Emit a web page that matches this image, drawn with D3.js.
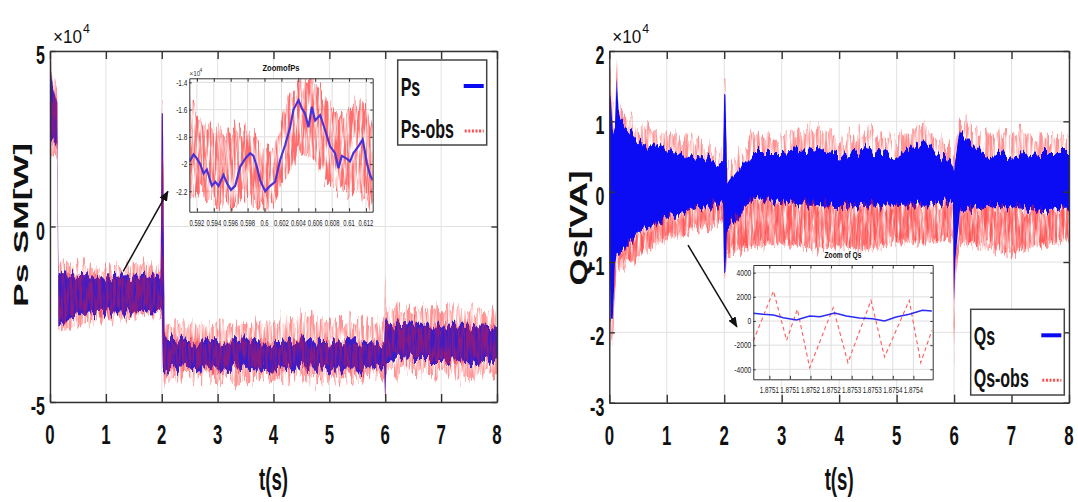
<!DOCTYPE html>
<html><head><meta charset="utf-8">
<script src="https://cdn.jsdelivr.net/npm/d3@7"></script>
<style>html,body{margin:0;padding:0;background:#fff;} svg{display:block;}</style>
</head><body><svg id="c" width="1078" height="502"></svg>
<script>
// ================= DATA (values in units of 10^4 for main charts) =================
const timeTicks = [0,1,2,3,4,5,6,7,8];
const psTicks = [-5,0,5];
const qsTicks = [-3,-2,-1,0,1,2];

// Ps envelope
const psT      = [0,0.02,0.05,0.1,0.13,0.15,0.2,0.5,1.0,1.5,1.98,2.0,2.02,2.05,2.1,2.5,3,3.5,4,4.5,5,5.5,5.98,6.0,6.02,6.1,6.5,7,7.5,8];
const psBlueHi = [4.5,4.5,4.0,3.7,3.5,-1.4,-1.35,-1.4,-1.45,-1.4,-1.4,3.2,3.2,-3.0,-3.2,-3.3,-3.3,-3.25,-3.3,-3.25,-3.3,-3.3,-3.3,-2.6,-2.7,-2.75,-2.8,-2.8,-2.8,-2.85];
const psBlueLo = [0,2.4,2.4,2.3,2.2,-2.7,-2.75,-2.5,-2.45,-2.45,-2.4,-2.4,-4.05,-4.1,-4.1,-4.05,-4.1,-4.05,-4.1,-4.0,-4.1,-4.1,-4.0,-5.0,-3.8,-3.75,-3.8,-3.8,-3.9,-3.75];
const psRedHi  = [4.9,4.9,4.3,4.1,3.9,-1.1,-1.05,-1.1,-1.15,-1.1,-1.15,3.55,3.55,-2.7,-2.8,-2.75,-2.8,-2.75,-2.7,-2.6,-2.7,-2.75,-2.7,-1.3,-2.2,-2.35,-2.3,-2.3,-2.3,-2.4];
const psRedLo  = [0,2.0,2.0,2.0,2.0,-3.0,-3.0,-2.8,-2.65,-2.6,-2.55,-2.55,-4.3,-4.4,-4.4,-4.3,-4.4,-4.45,-4.3,-4.35,-4.4,-4.3,-4.2,-4.9,-4.1,-4.1,-4.2,-4.25,-4.35,-4.2];

// Qs envelope
const qsT      = [0,0.02,0.06,0.1,0.13,0.16,0.2,0.5,1,1.5,1.98,2.0,2.02,2.05,2.1,2.5,3,3.5,4,4.5,5,5.5,5.9,5.98,6.0,6.02,6.1,6.5,7,7.5,8];
const qsBlueHi = [1.35,1.35,0.9,1.0,1.6,1.1,1.0,0.75,0.6,0.5,0.4,1.35,1.35,0.2,0.15,0.55,0.55,0.6,0.5,0.6,0.5,0.7,0.45,0.4,0.3,0.5,0.88,0.55,0.5,0.55,0.55];
const qsBlueLo = [-0.5,-1.85,-1.85,-1.0,-0.9,-0.9,-0.85,-0.6,-0.38,-0.25,-0.18,-1.2,-1.2,-0.5,-0.5,-0.1,-0.15,-0.2,-0.22,-0.2,-0.2,-0.2,-0.15,-0.15,-1.6,-1.0,-0.3,-0.22,-0.22,-0.28,-0.22];
const qsRedHi  = [1.7,1.7,1.2,1.2,1.92,1.2,1.1,0.93,0.78,0.7,0.55,1.6,1.6,0.4,0.36,0.78,0.83,0.95,0.73,0.92,0.78,0.92,0.6,0.55,0.5,0.8,1.0,0.78,0.88,0.78,0.73];
const qsRedLo  = [-0.8,-2.13,-2.13,-1.4,-1.1,-1.1,-1.05,-0.92,-0.65,-0.55,-0.42,-1.3,-1.3,-0.87,-0.87,-0.78,-0.73,-0.8,-0.78,-0.83,-0.7,-0.73,-0.65,-0.65,-2.5,-1.2,-0.7,-0.78,-0.87,-0.75,-0.7];

// Zoom of Ps
const zoomPsXTicks = [0.592,0.594,0.596,0.598,0.6,0.602,0.604,0.606,0.608,0.61,0.612];
const zoomPsYTicks = [-2.2,-2,-1.8,-1.6,-1.4];
const zoomPsT = [0.59113,0.59161,0.592,0.59239,0.59279,0.59318,0.59377,0.59417,0.59456,0.59515,0.59555,0.59602,0.59653,0.59712,0.59771,0.5983,0.5987,0.59909,0.59949,0.60008,0.60067,0.60126,0.60185,0.60244,0.60303,0.60343,0.60402,0.60441,0.6048,0.6052,0.60559,0.60599,0.60658,0.60717,0.60776,0.60835,0.60875,0.60914,0.60973,0.61012,0.61052,0.61111,0.61162,0.6121,0.61249,0.6128];
const zoomPsBlue = [-1.98,-1.93,-1.96,-2.0,-2.07,-2.04,-2.16,-2.13,-2.16,-2.08,-2.14,-2.19,-2.16,-2.02,-1.96,-1.92,-1.94,-2.02,-2.12,-2.2,-2.16,-2.13,-1.97,-1.86,-1.73,-1.6,-1.53,-1.59,-1.63,-1.73,-1.58,-1.68,-1.64,-1.75,-1.87,-1.92,-2.03,-1.94,-1.96,-1.98,-1.92,-1.87,-1.82,-1.99,-2.08,-2.12];
const zoomPsRedT  = [0.59121,0.59358,0.59555,0.59752,0.59949,0.60106,0.60264,0.60421,0.60579,0.60737,0.60894,0.61052,0.61209,0.6128];
const zoomPsRedHi = [-1.53,-1.77,-1.77,-1.75,-1.85,-1.9,-1.53,-1.38,-1.38,-1.53,-1.65,-1.55,-1.53,-1.77];
const zoomPsRedLo = [-2.21,-2.26,-2.31,-2.24,-2.34,-2.31,-2.09,-1.9,-1.97,-2.14,-2.21,-2.19,-2.26,-2.34];

// Zoom of Qs (VA)
const zoomQsXTicks = [1.8751,1.87515,1.8752,1.87525,1.8753,1.87535,1.8754,1.87545];
const zoomQsXLabels = ["1.8751","1.8751","1.8752","1.8752","1.8753","1.8753","1.8754","1.8754"];
const zoomQsYTicks = [-4000,-2000,0,2000,4000];
const zoomQsT    = [1.875061,1.875085,1.87511,1.875134,1.875166,1.875198,1.875223,1.875259,1.875287,1.875319,1.875351,1.87538,1.875408,1.87544,1.875472,1.875495];
const zoomQsBlue = [635,552,497,276,83,414,359,662,414,248,193,0,331,552,883,828];
const zoomQsObsT = [1.875061,1.87511,1.875142,1.875168,1.875198,1.875255,1.875291,1.875347,1.87538,1.87544,1.875468,1.875495];
const zoomQsObs  = [-1656,2484,-1601,966,-3864,1104,-3450,1711,-2981,1711,-3450,-773];

// ================= DRAWING =================
const FONT = "'Liberation Sans', Arial, sans-serif";
const svg = d3.select("#c");
const defs = svg.append("defs");

// texture filters (purely visual: ragged edges + speckle)
function makeFilter(id, dispFreq, dispScale, seed, grainFreq, grainGain, grainBias) {
  const f = defs.append("filter").attr("id", id).attr("x", "-5%").attr("y", "-10%").attr("width", "110%").attr("height", "120%")
    .attr("color-interpolation-filters", "sRGB");
  f.append("feTurbulence").attr("type", "fractalNoise").attr("baseFrequency", dispFreq).attr("numOctaves", 2).attr("seed", seed).attr("result", "n1");
  f.append("feColorMatrix").attr("in", "n1").attr("type", "matrix")
    .attr("values", "0 0 0 0 0.5  0 1 0 0 0  0 0 0 0 0  0 0 0 0 1").attr("result", "d1");
  f.append("feDisplacementMap").attr("in", "SourceGraphic").attr("in2", "d1").attr("scale", dispScale)
    .attr("xChannelSelector", "R").attr("yChannelSelector", "G").attr("result", "disp");
  if (grainFreq) {
    f.append("feTurbulence").attr("type", "fractalNoise").attr("baseFrequency", grainFreq).attr("numOctaves", 3).attr("seed", seed + 11).attr("result", "n2");
    f.append("feColorMatrix").attr("in", "n2").attr("type", "matrix")
      .attr("values", `0 0 0 0 0  0 0 0 0 0  0 0 0 0 0  0 0 0 ${grainGain} ${grainBias}`).attr("result", "m");
    f.append("feComposite").attr("in", "disp").attr("in2", "m").attr("operator", "in");
  }
}
makeFilter("redTex", "0.35 0.012", 34, 3, "0.42 0.03", 3.4, -1.1);
makeFilter("redTex2", "0.3 0.012", 26, 9, "0.45 0.04", 3.0, -0.85);
makeFilter("blueTex", "0.3 0.01", 22, 5, null);

defs.append("marker").attr("id","ah").attr("viewBox","0 0 10 10").attr("refX",9).attr("refY",5)
  .attr("markerWidth",7).attr("markerHeight",7).attr("orient","auto")
  .append("path").attr("d","M0,1 L10,5 L0,9 Z").attr("fill","#111");

function label(parent, s, x, y, o) {
  const t = parent.append("text").text(s)
    .attr("transform", `translate(${x},${y})` + (o.rot ? ` rotate(${o.rot})` : "") + (o.sx ? ` scale(${o.sx},1)` : ""))
    .attr("font-family", FONT).attr("font-size", o.size)
    .attr("font-weight", o.bold ? "bold" : "normal")
    .attr("text-anchor", o.anchor || "start").attr("fill", o.fill || "#111");
  if (o.len) t.attr("textLength", o.len).attr("lengthAdjust", "spacingAndGlyphs");
  return t;
}

function frame(g, x, y, xt, yt, tick, col, w) {
  const [l, r] = x.range(), [b, t] = y.range();
  g.append("g").attr("transform", `translate(0,${b})`).call(d3.axisBottom(x).tickValues(xt).tickSizeInner(-tick).tickSizeOuter(0).tickFormat(""));
  g.append("g").attr("transform", `translate(0,${t})`).call(d3.axisTop(x).tickValues(xt).tickSizeInner(-tick).tickSizeOuter(0).tickFormat(""));
  g.append("g").attr("transform", `translate(${l},0)`).call(d3.axisLeft(y).tickValues(yt).tickSizeInner(-tick*0.7).tickSizeOuter(0).tickFormat(""));
  g.append("g").attr("transform", `translate(${r},0)`).call(d3.axisRight(y).tickValues(yt).tickSizeInner(-tick*0.7).tickSizeOuter(0).tickFormat(""));
  g.selectAll(".domain").attr("stroke", col).attr("stroke-width", w);
  g.selectAll(".tick line").attr("stroke", col).attr("stroke-width", w);
}

function grid(g, x, y, xt, yt, col) {
  const [l, r] = x.range(), [b, t] = y.range();
  g.selectAll(null).data(xt).join("line").attr("x1", d => x(d)).attr("x2", d => x(d)).attr("y1", b).attr("y2", t)
    .attr("stroke", col).attr("stroke-width", 1);
  g.selectAll(null).data(yt).join("line").attr("y1", d => y(d)).attr("y2", d => y(d)).attr("x1", l).attr("x2", r)
    .attr("stroke", col).attr("stroke-width", 1);
}

function band(g, T, hi, lo, x, y) {
  const idx = d3.range(T.length);
  return g.append("path")
    .attr("d", d3.area().x(i => x(T[i])).y0(i => y(lo[i])).y1(i => y(hi[i]))(idx));
}

function mainChart(id, cfg) {
  const g = svg.append("g");
  const x = d3.scaleLinear().domain([0, 8]).range([cfg.left, cfg.right]);
  const y = d3.scaleLinear().domain(cfg.yDomain).range([cfg.bottom, cfg.top]);
  defs.append("clipPath").attr("id", id).append("rect")
    .attr("x", cfg.left).attr("y", cfg.top).attr("width", cfg.right - cfg.left).attr("height", cfg.bottom - cfg.top);
  grid(g, x, y, timeTicks, cfg.yTicks, "#e2e2e2");
  const data = g.append("g").attr("clip-path", `url(#${id})`);
  frame(g, x, y, timeTicks, cfg.yTicks, 8, "#333", 1.4);
  g.selectAll(null).data(timeTicks).join("text").text(d => d)
    .attr("transform", d => `translate(${x(d)},${cfg.bottom + 42}) scale(0.6,1)`)
    .attr("font-family", FONT).attr("font-size", 28).attr("font-weight", "bold").attr("text-anchor", "middle").attr("fill", "#111");
  g.selectAll(null).data(cfg.yTicks).join("text").text(d => d)
    .attr("transform", d => `translate(${cfg.left - 5},${y(d) + 13}) scale(0.64,1)`)
    .attr("font-family", FONT).attr("font-size", 25).attr("font-weight", "bold").attr("text-anchor", "end").attr("fill", "#111");
  label(g, "\u00d710", cfg.left + 3, 43, {size: 18, sx: 0.95});
  label(g, "4", cfg.left + 33, 33, {size: 13, sx: 0.95});
  label(g, "t(s)", (cfg.left + cfg.right) / 2, 490, {size: 32, bold: true, anchor: "middle", len: 29});
  label(g, cfg.ylab, cfg.ylabX, cfg.ylabY, {size: cfg.ylabSize, bold: true, anchor: "middle", rot: -90, len: cfg.ylabLen});
  return {g, x, y, data};
}

// ---------- Ps chart ----------
const P = mainChart("clipPs", {left: 50, right: 497, top: 51, bottom: 402, yDomain: [-5, 5], yTicks: psTicks,
  ylab: "Ps SM[W]", ylabX: 28, ylabY: 225, ylabSize: 21, ylabLen: 164});
band(P.data, psT, psRedHi, psRedLo, P.x, P.y).attr("fill", "#ff4a4a").attr("opacity", 0.6).attr("filter", "url(#redTex)");
band(P.data, psT, psBlueHi, psBlueLo, P.x, P.y).attr("fill", "#3a1cc8").attr("filter", "url(#blueTex)");
band(P.data, psT, psBlueHi, psBlueLo, P.x, P.y).attr("fill", "#d81a40").attr("opacity", 0.5).attr("filter", "url(#redTex2)");

// ---------- Qs chart ----------
const Q = mainChart("clipQs", {left: 609.3, right: 1069, top: 51, bottom: 402.7, yDomain: [-3, 2], yTicks: qsTicks,
  ylab: "Qs[VA]", ylabX: 587, ylabY: 228, ylabSize: 24, ylabLen: 115});
band(Q.data, qsT, qsRedHi, qsRedLo, Q.x, Q.y).attr("fill", "#ff4a4a").attr("opacity", 0.6).attr("filter", "url(#redTex)");
band(Q.data, qsT, qsBlueHi, qsBlueLo, Q.x, Q.y).attr("fill", "#0c0cf4").attr("filter", "url(#blueTex)");
band(Q.data, qsT, qsBlueLo, qsRedLo, Q.x, Q.y).attr("fill", "#ff1a1a").attr("opacity", 0.5).attr("filter", "url(#redTex2)");

// ---------- Legends ----------
function legend(g, x0, y0, w, h, names, fillBox) {
  g.append("rect").attr("x", x0).attr("y", y0).attr("width", w).attr("height", h)
    .attr("fill", fillBox ? "#fff" : "none").attr("stroke", "#444").attr("stroke-width", 1.5);
  label(g, names[0], x0 + 3, y0 + 36, {size: 25, bold: true, sx: 0.64});
  label(g, names[1], x0 + 3, y0 + 78, {size: 25, bold: true, sx: 0.64});
  g.append("line").attr("x1", x0 + w - 23).attr("x2", x0 + w - 3).attr("y1", y0 + 26).attr("y2", y0 + 26)
    .attr("stroke", "#0a0af0").attr("stroke-width", 4);
  g.append("line").attr("x1", x0 + w - 22).attr("x2", x0 + w - 3).attr("y1", y0 + 71).attr("y2", y0 + 71)
    .attr("stroke", "#ff2020").attr("stroke-width", 3).attr("stroke-dasharray", "2,1.6").attr("opacity", 0.8);
}
legend(P.g, 397.7, 60, 89, 85, ["Ps", "Ps-obs"], false);
legend(Q.g, 970.7, 309.3, 93.6, 85.7, ["Qs", "Qs-obs"], true);

// ---------- Arrows ----------
P.g.append("line").attr("x1", P.x(1.31)).attr("y1", P.y(-1.28)).attr("x2", P.x(2.11)).attr("y2", P.y(1.0))
  .attr("stroke", "#111").attr("stroke-width", 1.5).attr("marker-end", "url(#ah)");
Q.g.append("line").attr("x1", Q.x(1.37)).attr("y1", Q.y(-0.76)).attr("x2", Q.x(2.22)).attr("y2", Q.y(-1.92))
  .attr("stroke", "#111").attr("stroke-width", 1.5).attr("marker-end", "url(#ah)");

// ---------- Insets ----------
function inset(id, box, xd, yd, xt, xl, yt, yl, title, tlen, xsx, ysx) {
  const g = svg.append("g");
  const x = d3.scaleLinear().domain(xd).range([box.l, box.r]);
  const y = d3.scaleLinear().domain(yd).range([box.b, box.t]);
  g.append("rect").attr("x", box.l).attr("y", box.t).attr("width", box.r - box.l).attr("height", box.b - box.t).attr("fill", "#fff");
  defs.append("clipPath").attr("id", id).append("rect")
    .attr("x", box.l).attr("y", box.t).attr("width", box.r - box.l).attr("height", box.b - box.t);
  grid(g, x, y, xt, yt, "#dedede");
  const data = g.append("g").attr("clip-path", `url(#${id})`);
  const fr = g.append("g");
  frame(fr, x, y, xt, yt, 3.5, "#333", 1);
  g.selectAll(null).data(xt).join("text").text((d, i) => xl[i])
    .attr("transform", d => `translate(${x(d)},${box.b + 14}) scale(${xsx},1)`)
    .attr("font-family", FONT).attr("font-size", 9.5).attr("text-anchor", "middle").attr("fill", "#222");
  g.selectAll(null).data(yt).join("text").text((d, i) => yl[i])
    .attr("transform", d => `translate(${box.l - 2},${y(d) + 3.3}) scale(${ysx},1)`)
    .attr("font-family", FONT).attr("font-size", 9.5).attr("text-anchor", "end").attr("fill", "#222");
  label(g, title, (box.l + box.r) / 2, box.t - 7.5, {size: 9.5, bold: true, anchor: "middle", len: tlen});
  return {g, x, y, data, fr};
}

const Z1 = inset("clipZ1", {l: 189.3, r: 372.7, t: 78.3, b: 211.7}, [0.5911, 0.6128], [-2.35, -1.37],
  zoomPsXTicks, zoomPsXTicks.map(String), zoomPsYTicks, zoomPsYTicks.map(String), "ZoomofPs", 37, 0.62, 0.68);
band(Z1.data, zoomPsRedT, zoomPsRedHi, zoomPsRedLo, Z1.x, Z1.y).attr("fill", "#ff3030").attr("opacity", 0.7).attr("filter", "url(#redTex)");
{
  const idx = d3.range(zoomPsT.length);
  Z1.data.append("path").attr("d", d3.line().x(i => Z1.x(zoomPsT[i])).y(i => Z1.y(zoomPsBlue[i]))(idx))
    .attr("fill", "none").attr("stroke", "#4a32d8").attr("stroke-width", 2.2);
}
Z1.fr.raise();
label(Z1.g, "\u00d710", 189.5, 76, {size: 7, sx: 0.9, fill: "#333"});
label(Z1.g, "4", 199.5, 72, {size: 5, fill: "#333"});

const Z2 = inset("clipZ2", {l: 753.3, r: 932.7, t: 265, b: 379.3}, [1.875061, 1.875497], [-4826, 4636],
  zoomQsXTicks, zoomQsXLabels, zoomQsYTicks, zoomQsYTicks.map(String), "Zoom of Qs", 37, 0.66, 0.7);
{
  const i1 = d3.range(zoomQsObsT.length);
  Z2.data.append("path").attr("d", d3.line().x(i => Z2.x(zoomQsObsT[i])).y(i => Z2.y(zoomQsObs[i]))(i1))
    .attr("fill", "none").attr("stroke", "#ff5a5a").attr("stroke-width", 1.1).attr("stroke-dasharray", "4,3");
  const i2 = d3.range(zoomQsT.length);
  Z2.data.append("path").attr("d", d3.line().x(i => Z2.x(zoomQsT[i])).y(i => Z2.y(zoomQsBlue[i]))(i2))
    .attr("fill", "none").attr("stroke", "#2a2af5").attr("stroke-width", 1.5);
}
Z2.fr.raise();
</script></body></html>
